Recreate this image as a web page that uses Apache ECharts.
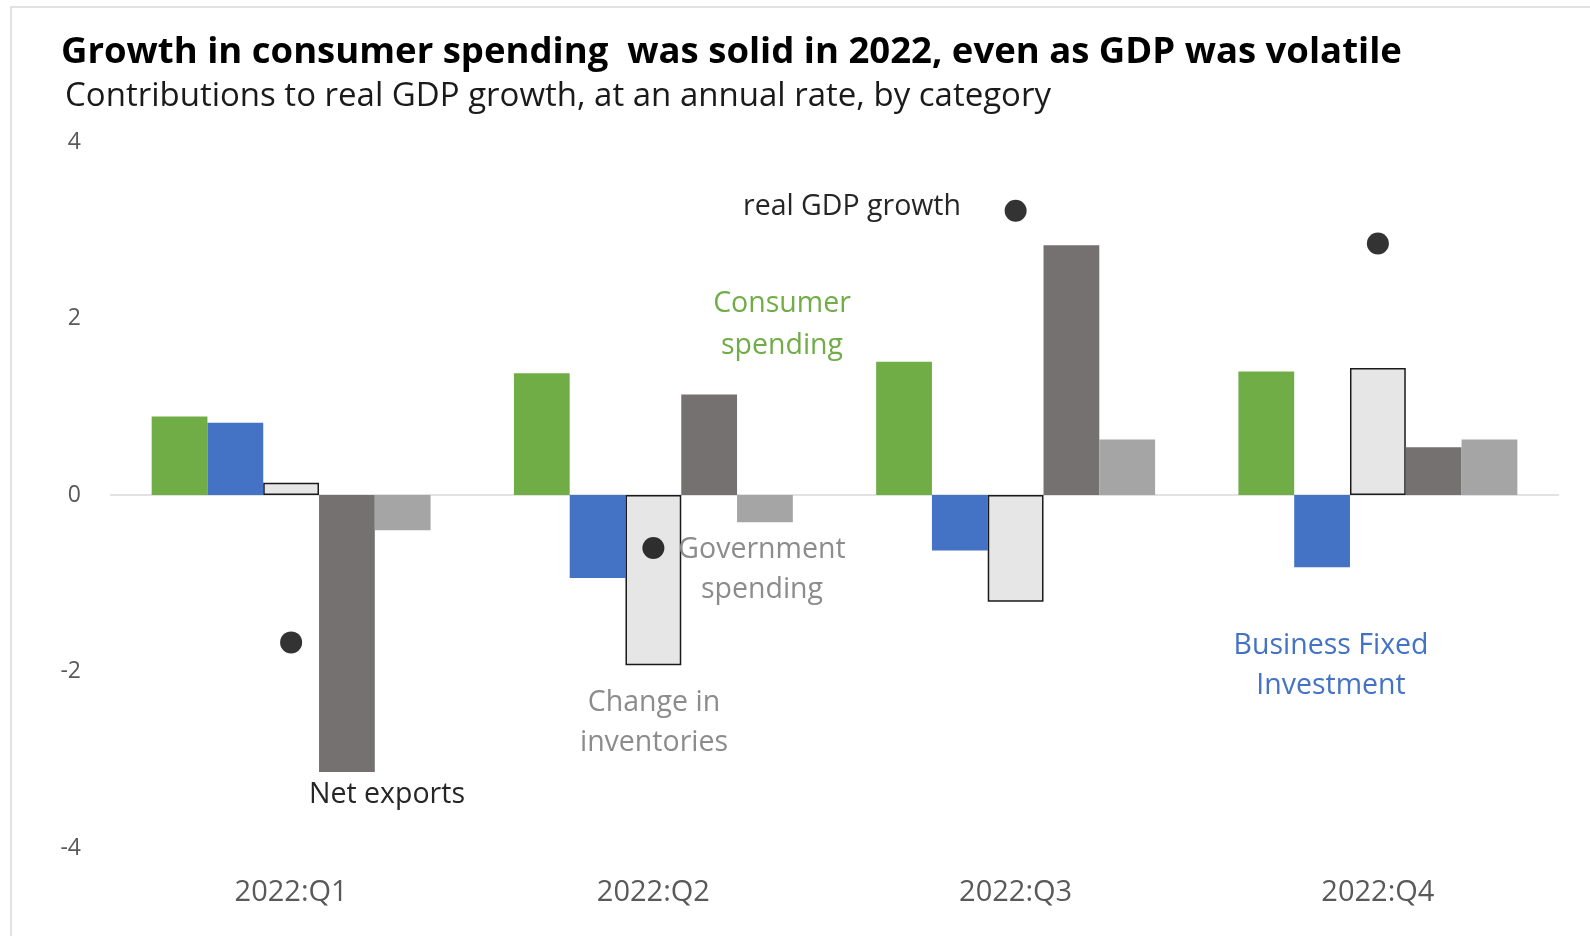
<!DOCTYPE html>
<html>
<head>
<meta charset="utf-8">
<script src="https://cdn.jsdelivr.net/npm/echarts@6/dist/echarts.min.js"></script>
<style>
  html, body { margin: 0; padding: 0; background: #fff; }
  #chart { width: 1590px; height: 936px; }
</style>
</head>
<body>
<div id="chart"></div>
<script>
// ---- data ----
const quarters = ['2022:Q1', '2022:Q2', '2022:Q3', '2022:Q4'];
const consumerSpending = [0.89, 1.38, 1.51, 1.40];
const businessFixedInvestment = [0.82, -0.94, -0.63, -0.82];
const changeInInventories = [0.14, -1.93, -1.21, 1.44];
const netExports = [-3.14, 1.14, 2.83, 0.54];
const governmentSpending = [-0.40, -0.31, 0.63, 0.63];
const realGdpGrowth = [-1.67, -0.60, 3.22, 2.85];
const yTicks = [-4, -2, 0, 2, 4];

const FONT = '"Open Sans", Lato, sans-serif';

const chart = echarts.init(document.getElementById('chart'), null, { renderer: 'canvas' });

function barSeries(name, data, color, extra) {
  return Object.assign({
    name: name,
    type: 'bar',
    data: data,
    barGap: '0%',
    barCategoryGap: '23%',
    itemStyle: { color: color },
    silent: true
  }, extra || {});
}

function label(text, x, y, color, size) {
  return {
    type: 'text',
    x: x, y: y,
    style: {
      text: text,
      fill: color,
      font: (size || 28.5) + 'px ' + FONT,
      align: 'center',
      verticalAlign: 'middle'
    },
    silent: true,
    z: 100
  };
}

const option = {
  backgroundColor: '#ffffff',
  animation: false,
  grid: { left: 110, right: 31, top: 142, bottom: 88, containLabel: false },
  xAxis: {
    type: 'category',
    data: quarters,
    axisLine: { show: false, onZero: false },
    axisTick: { show: false },
    axisLabel: { color: '#595959', fontFamily: FONT, fontSize: 29, margin: 30 },
    splitLine: { show: false }
  },
  yAxis: {
    type: 'value',
    min: yTicks[0],
    max: yTicks[yTicks.length - 1],
    interval: 2,
    axisLine: { show: false },
    axisTick: { show: false },
    splitLine: { show: false },
    axisLabel: { color: '#595959', fontFamily: FONT, fontSize: 23, margin: 29, padding: [4, 0, 0, 0] }
  },
  series: [
    barSeries('Consumer spending', consumerSpending, '#70AD47', {
      markLine: {
        silent: true,
        symbol: ['none', 'none'],
        label: { show: false },
        lineStyle: { color: '#d9d9d9', width: 1.5, type: 'solid' },
        data: [{ yAxis: 0 }],
        z: 1
      }
    }),
    barSeries('Business Fixed Investment', businessFixedInvestment, '#4472C4'),
    barSeries('Change in inventories', changeInInventories, '#E7E6E6', {
      itemStyle: { color: '#E7E6E6', borderColor: '#1a1a1a', borderWidth: 1.5 }
    }),
    barSeries('Net exports', netExports, '#767171'),
    barSeries('Government spending', governmentSpending, '#A5A5A5'),
    {
      name: 'real GDP growth',
      type: 'scatter',
      data: realGdpGrowth,
      symbol: 'circle',
      symbolSize: 22,
      itemStyle: { color: '#000000' },
      silent: true,
      z: 10
    }
  ],
  graphic: [
    {
      type: 'rect',
      shape: { x: 11, y: 7, width: 1700, height: 1000 },
      style: { fill: 'none', stroke: '#d9d9d9', lineWidth: 1.5 },
      silent: true,
      z: 0
    },
    {
      type: 'text', x: 61, y: 53,
      style: {
        text: 'Growth in consumer spending  was solid in 2022, even as GDP was volatile',
        fill: '#000000', font: 'bold 36.5px ' + FONT, align: 'left', verticalAlign: 'middle'
      },
      silent: true
    },
    {
      type: 'text', x: 65, y: 97,
      style: {
        text: 'Contributions to real GDP growth, at an annual rate, by category',
        fill: '#1a1a1a', font: '33px ' + FONT, align: 'left', verticalAlign: 'middle'
      },
      silent: true
    },
    label('real GDP growth', 852, 207, '#262626'),
    label('Consumer', 782, 304, '#70AD47'),
    label('spending', 782, 346, '#70AD47'),
    label('Government', 762, 550, '#8c8c8c'),
    label('spending', 762, 590, '#8c8c8c'),
    label('Change in', 654, 703, '#8c8c8c'),
    label('inventories', 654, 743, '#8c8c8c'),
    label('Net exports', 387, 795, '#262626'),
    label('Business Fixed', 1331, 646, '#4472C4'),
    label('Investment', 1331, 686, '#4472C4')
  ]
};

chart.setOption(option);
</script>
</body>
</html>
